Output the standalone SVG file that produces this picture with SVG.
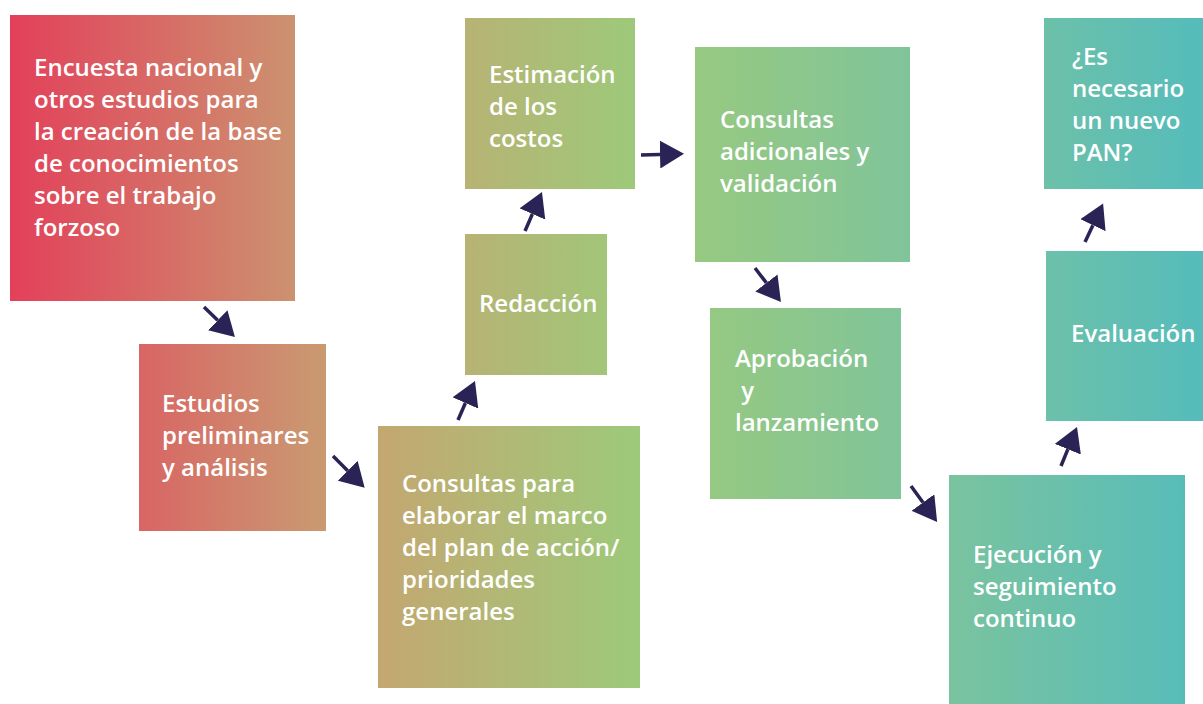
<svg xmlns="http://www.w3.org/2000/svg" width="1203" height="704" viewBox="0 0 1203 704">
<defs>
<linearGradient id="g" gradientUnits="userSpaceOnUse" x1="10" y1="0" x2="1203" y2="0">
<stop offset="0" stop-color="#e3405a"/>
<stop offset="0.239" stop-color="#cc9270"/>
<stop offset="0.308" stop-color="#c4a770"/>
<stop offset="0.528" stop-color="#9dca7a"/>
<stop offset="0.754" stop-color="#80c49a"/>
<stop offset="1" stop-color="#55bcbb"/>
</linearGradient>
<marker id="ah" viewBox="0 -14 25 28" markerWidth="25" markerHeight="28" refX="0" refY="0" markerUnits="userSpaceOnUse" orient="auto">
<path d="M0,-14 L24,0 L0,14 Z" fill="#2a2355"/>
</marker>
</defs>
<style>
rect.box{fill:url(#g)}
text{font-family:"Open Sans","Noto Sans","Liberation Sans",sans-serif;font-weight:600;font-size:24px;fill:#ffffff}
line.c{stroke:#2a2355;stroke-width:3.5;marker-end:url(#ah)}
</style>
<rect width="1203" height="704" fill="#ffffff"/>
<g id="n1"><rect class="box" x="10" y="15" width="285" height="286"/>
<text x="34" y="76">Encuesta nacional y</text><text x="34" y="108">otros estudios para</text><text x="34" y="140">la creación de la base</text><text x="34" y="172">de conocimientos</text><text x="34" y="204">sobre el trabajo</text><text x="34" y="236">forzoso</text></g>
<g id="n2"><rect class="box" x="139" y="344" width="187" height="187"/>
<text x="162" y="412">Estudios</text><text x="162" y="444">preliminares</text><text x="162" y="476">y análisis</text></g>
<g id="n3"><rect class="box" x="378" y="426" width="262" height="262"/>
<text x="402" y="492">Consultas para</text><text x="402" y="524">elaborar el marco</text><text x="402" y="556">del plan de acción/</text><text x="402" y="588">prioridades</text><text x="402" y="620">generales</text></g>
<g id="n4"><rect class="box" x="465" y="234" width="142" height="141"/>
<text x="479" y="312">Redacción</text></g>
<g id="n5"><rect class="box" x="465" y="18" width="170" height="171"/>
<text x="489" y="83">Estimación</text><text x="489" y="115">de los</text><text x="489" y="147">costos</text></g>
<g id="n6"><rect class="box" x="695" y="47" width="215" height="215"/>
<text x="720" y="128">Consultas</text><text x="720" y="160">adicionales y</text><text x="720" y="192">validación</text></g>
<g id="n7"><rect class="box" x="710" y="308" width="191" height="191"/>
<text x="735" y="367">Aprobación</text><text x="735" y="399" xml:space="preserve"> y</text><text x="735" y="431">lanzamiento</text></g>
<g id="n8"><rect class="box" x="949" y="475" width="236" height="229"/>
<text x="973" y="563">Ejecución y</text><text x="973" y="595">seguimiento</text><text x="973" y="627">continuo</text></g>
<g id="n9"><rect class="box" x="1046" y="251" width="157" height="170"/>
<text x="1071" y="342">Evaluación</text></g>
<g id="n10"><rect class="box" x="1044" y="18" width="159" height="171"/>
<text x="1072" y="65">¿Es</text><text x="1072" y="97">necesario</text><text x="1072" y="129">un nuevo</text><text x="1072" y="161">PAN?</text></g>
<g id="connectors">
<line class="c" x1="204" y1="307" x2="217.7" y2="320.3"/>
<line class="c" x1="333" y1="456" x2="347.7" y2="470.7"/>
<line class="c" x1="458" y1="420" x2="465.4" y2="403"/>
<line class="c" x1="525" y1="231" x2="532.4" y2="214"/>
<line class="c" x1="641" y1="155" x2="660" y2="154.5"/>
<line class="c" x1="755" y1="268" x2="766.4" y2="282.9"/>
<line class="c" x1="911" y1="486" x2="923" y2="502.5"/>
<line class="c" x1="1061" y1="466" x2="1067.9" y2="449.2"/>
<line class="c" x1="1085" y1="242" x2="1092.9" y2="225.2"/>
</g>
</svg>
